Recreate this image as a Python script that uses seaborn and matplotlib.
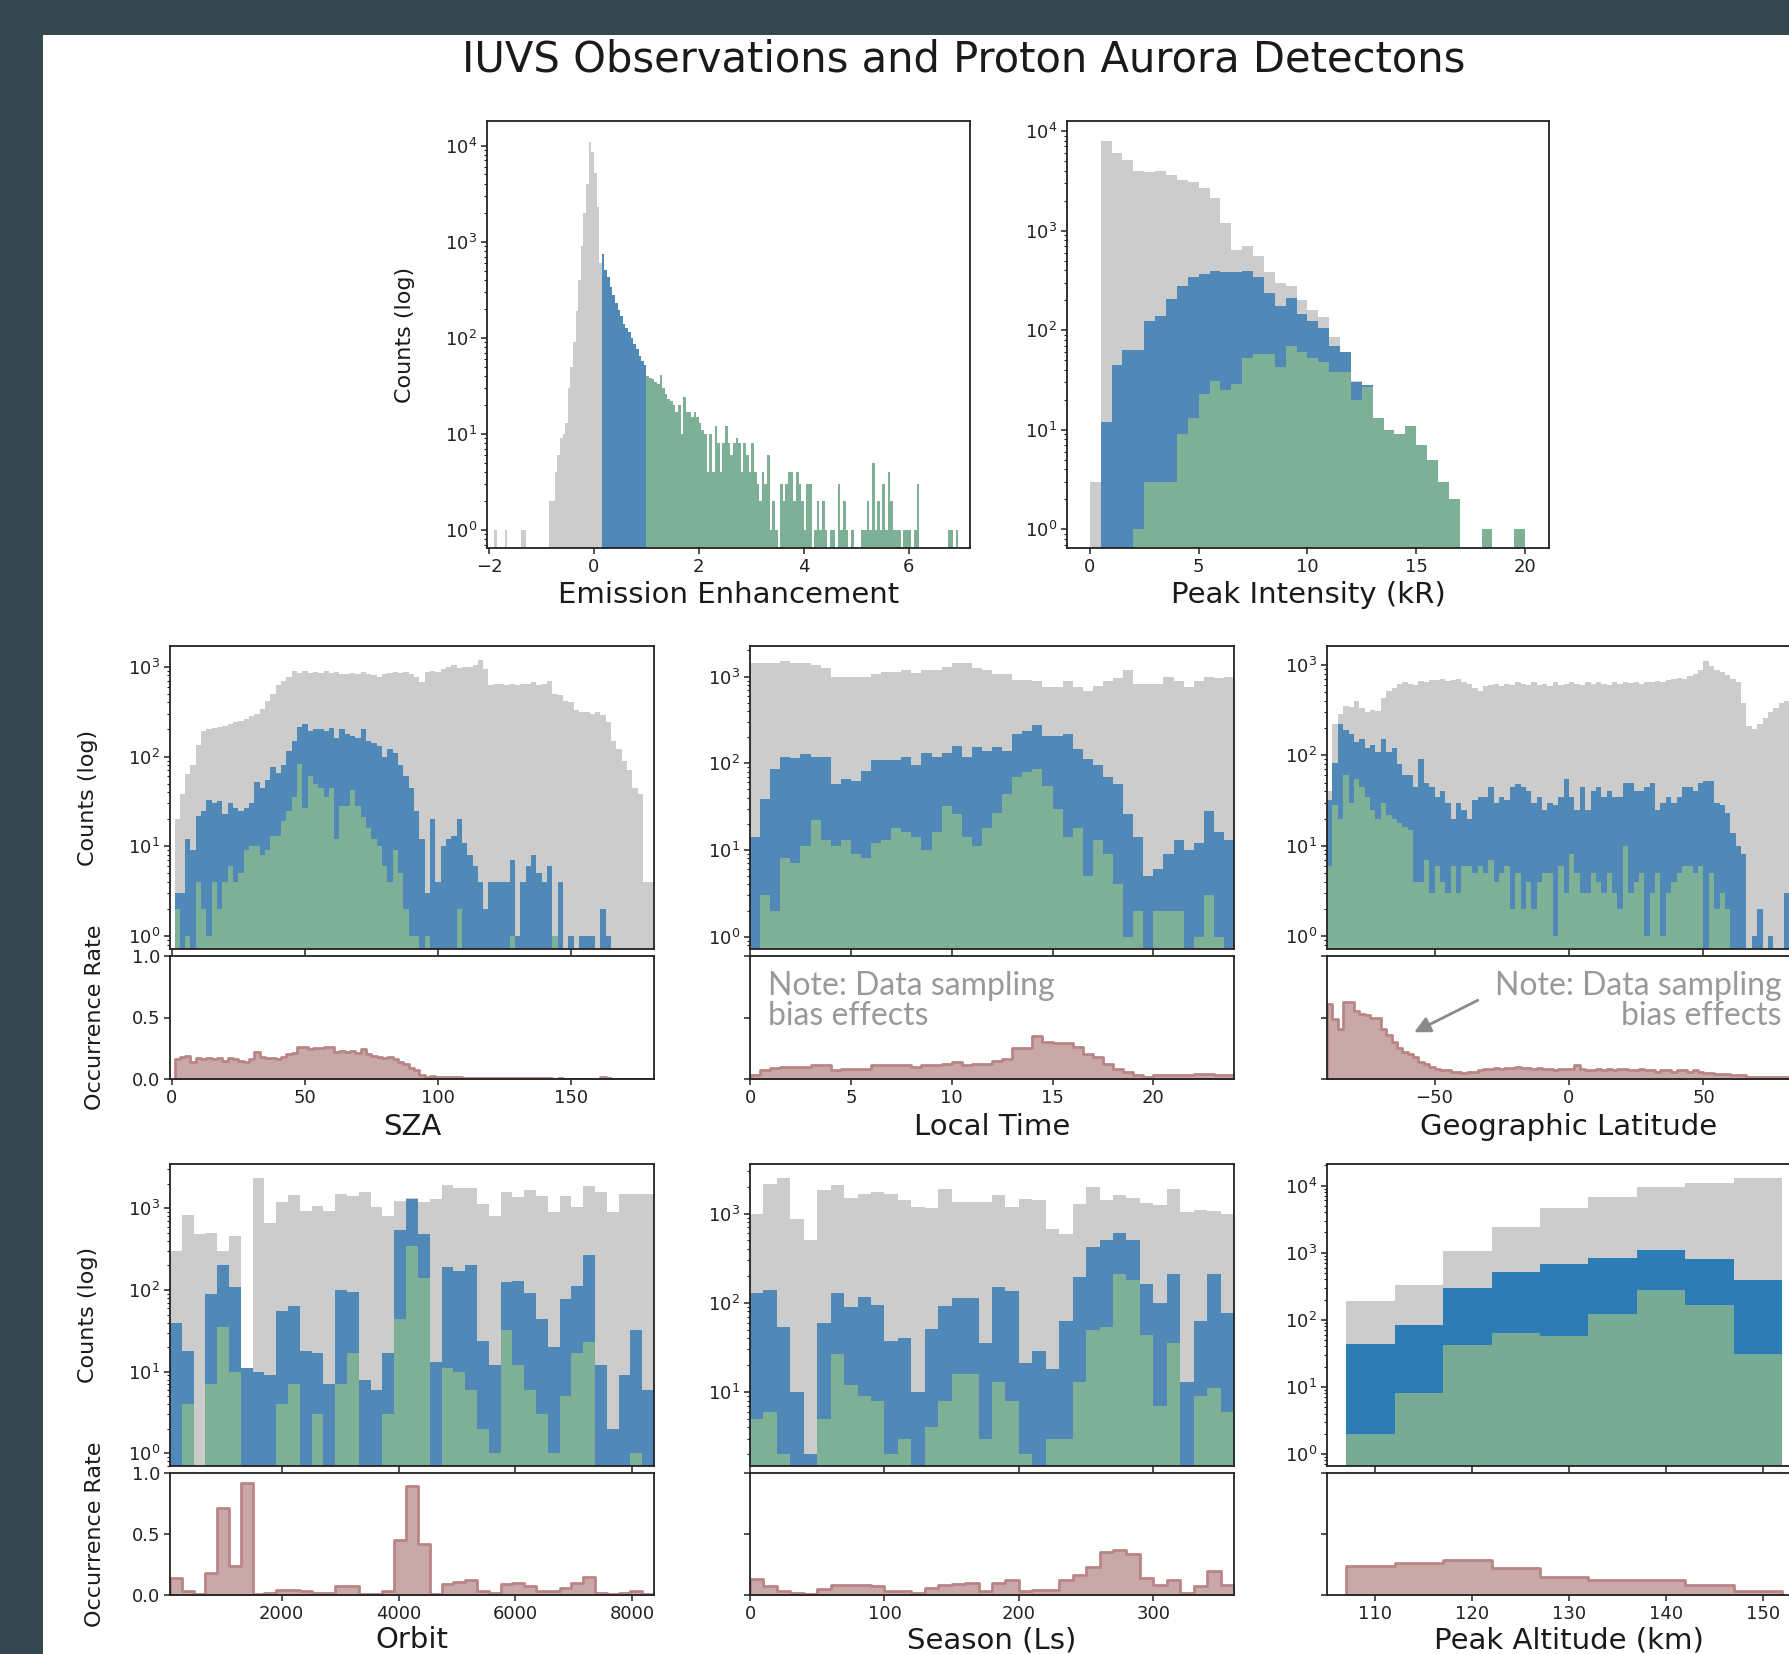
import numpy as np
import pandas as pd
import matplotlib
matplotlib.use('Agg')
import matplotlib.pyplot as plt
import seaborn as sns
from matplotlib.patches import Rectangle
from matplotlib.ticker import FormatStrFormatter, LogLocator, NullFormatter

# colours
GRAY = '#cccccc'
BLUE = '#5088b8'
GREEN = '#7eaf97'
ALT_BLUE = '#2e7cb5'
ALT_GREEN = '#77ab96'
PINK = '#c9a8a8'
PINK_EDGE = '#b98585'

# ---------------- Emission Enhancement (0.05 bins) ----------------
ee_gray_x = [-1.875, -1.675, -1.375, -1.325, -0.825, -0.775, -0.725, -0.675, -0.625, -0.575,
             -0.525, -0.475, -0.425, -0.375, -0.325, -0.275, -0.225, -0.175, -0.125, -0.075,
             -0.025, 0.025, 0.075, 0.125]
ee_gray_n = [1, 1, 1, 1, 2, 2, 4, 6, 9, 10, 13, 30, 50, 90, 190, 400, 900, 2000, 4000, 11000,
             8500, 5200, 2300, 600]
ee_blue_x = [0.175, 0.225, 0.275, 0.325, 0.375, 0.425, 0.475, 0.525, 0.575, 0.625, 0.675,
             0.725, 0.775, 0.825, 0.875, 0.925, 0.975]
ee_blue_n = [740, 510, 430, 340, 280, 230, 195, 170, 140, 125, 115, 100, 87, 77, 65, 58, 52]
# green part: consecutive bins from 1.0 to 7.0
ee_green_n = [40, 38, 37, 35, 33, 41, 30, 26, 23, 22,
              20, 17, 20, 10, 24, 17, 17, 15, 17, 15,
              13, 11, 10, 4, 10, 4, 12, 8, 4, 8,
              12, 8, 6, 8, 9, 8, 4, 8, 6, 4,
              8, 4, 3, 2, 4, 3, 6, 1, 2, 1,
              0, 3, 2, 3, 4, 4, 2, 4, 3, 2,
              1, 3, 3, 0, 1, 2, 1, 2, 1, 0,
              1, 1, 0, 3, 1, 2, 1, 0, 1, 0,
              0, 0, 1, 1, 2, 1, 5, 1, 2, 1,
              3, 1, 4, 2, 1, 1, 1, 0, 1, 1,
              1, 0, 1, 3, 0, 0, 0, 0, 0, 0,
              0, 0, 0, 0, 0, 1, 1, 0, 1, 0]

# ---------------- Peak Intensity (0.5 kR bins, 0-20) ----------------
pi_obs = [3, 8000, 6000, 5100, 4000, 3900, 4000, 3600, 3200, 3100,
          2700, 2100, 1200, 640, 700, 560, 380, 300, 280, 200,
          160, 135, 85, 60, 31, 28, 13, 10, 9, 11,
          7, 5, 3, 2, 0, 0, 1, 0, 0, 1]
pi_det = [0, 12, 45, 63, 63, 124, 140, 205, 280, 340,
          370, 390, 385, 380, 390, 340, 235, 175, 210, 145,
          125, 105, 70, 60, 30, 28, 13, 10, 9, 11,
          7, 5, 3, 2, 0, 0, 1, 0, 0, 1]
pi_strong = [0, 0, 0, 0, 1, 3, 3, 3, 9, 13,
             23, 31, 25, 29, 52, 58, 58, 43, 70, 60,
             52, 48, 38, 38, 20, 27, 13, 10, 9, 11,
             7, 5, 3, 2, 0, 0, 1, 0, 0, 1]

# ---------------- SZA (2 deg bins, 1-181) ----------------
sza_obs = [20, 38, 64, 80, 133, 194, 205, 210, 215, 220,
           230, 240, 250, 260, 280, 300, 340, 420, 500, 620,
           700, 760, 890, 860, 900, 850, 870, 860, 900, 850,
           870, 840, 830, 850, 820, 870, 830, 800, 760, 820,
           860, 880, 850, 870, 820, 760, 670, 880, 900, 880,
           950, 1000, 1050, 960, 980, 1000, 1050, 1180, 950, 620,
           640, 650, 630, 640, 620, 650, 640, 680, 630, 640,
           700, 500, 480, 420, 400, 330, 310, 310, 300, 310,
           290, 240, 150, 120, 90, 70, 45, 38, 4, 4]
sza_det = [3, 3, 12, 9, 22, 25, 33, 30, 32, 23,
           30, 27, 25, 27, 30, 52, 45, 55, 76, 65,
           80, 116, 150, 212, 230, 190, 200, 200, 190, 210,
           160, 200, 180, 170, 160, 200, 150, 140, 130, 100,
           120, 110, 80, 60, 45, 25, 12, 3, 20, 4,
           10, 12, 13, 20, 11, 8, 6, 4, 2, 4,
           4, 4, 4, 7, 1, 4, 6, 8, 5, 4,
           6, 1, 4, 0, 1, 0, 1, 1, 1, 0,
           2, 1, 0, 0, 0, 0, 0, 0, 0, 0]
sza_strong = [2, 0, 1, 0, 4, 2, 1, 4, 2, 4,
              6, 4, 5, 9, 10, 10, 8, 9, 13, 13,
              19, 25, 35, 83, 27, 61, 50, 45, 35, 45,
              12, 28, 28, 42, 28, 21, 16, 12, 10, 6,
              4, 9, 5, 2, 1, 1, 0, 1, 0, 0,
              0, 0, 0, 2, 0, 0, 0, 0, 0, 0,
              0, 0, 0, 1, 0, 0, 0, 0, 0, 0,
              0, 1, 0, 0, 0, 0, 0, 0, 0, 0,
              0, 0, 0, 0, 0, 0, 0, 0, 0, 0]
sza_rate = [0.16, 0.18, 0.19, 0.14, 0.17, 0.16, 0.17, 0.16, 0.17, 0.15,
            0.17, 0.16, 0.15, 0.14, 0.16, 0.22, 0.18, 0.17, 0.17, 0.16,
            0.18, 0.20, 0.21, 0.26, 0.26, 0.24, 0.25, 0.25, 0.26, 0.26,
            0.22, 0.23, 0.22, 0.23, 0.21, 0.24, 0.20, 0.19, 0.18, 0.17,
            0.18, 0.16, 0.14, 0.12, 0.09, 0.07, 0.03, 0.02, 0.025, 0.02,
            0.02, 0.015, 0.015, 0.02, 0.012, 0.01, 0.008, 0.005, 0.005, 0.005,
            0.005, 0.005, 0.008, 0.012, 0.005, 0.006, 0.01, 0.012, 0.008, 0.007,
            0.01, 0.003, 0.01, 0.0, 0.003, 0.0, 0.003, 0.003, 0.003, 0.0,
            0.013, 0.007, 0.0, 0.0, 0.0, 0.0, 0.0, 0.0, 0.0, 0.0]

# ---------------- Local Time (0.5 h bins) ----------------
lt_obs = [1420, 1420, 1420, 1530, 1450, 1450, 1350, 1270, 980, 980,
          990, 1000, 1060, 1120, 1120, 1200, 1100, 1200, 1200, 1280,
          1420, 1420, 1270, 1180, 1060, 1060, 910, 910, 880, 760,
          750, 890, 750, 690, 780, 890, 960, 1180, 830, 810,
          830, 1000, 880, 760, 880, 1000, 960, 1000]
lt_det = [14, 39, 86, 119, 115, 128, 119, 119, 57, 65,
          63, 82, 110, 108, 108, 119, 95, 130, 119, 130,
          160, 119, 155, 140, 155, 140, 217, 233, 278, 208,
          208, 220, 146, 111, 96, 69, 58, 26, 14, 5,
          6, 9, 13, 10, 12, 28, 16, 13]
lt_strong = [0, 3, 2, 8, 7, 11, 22, 13, 11, 13,
             9, 8, 12, 13, 18, 16, 14, 10, 16, 32,
             26, 14, 11, 18, 27, 44, 69, 79, 86, 55,
             30, 14, 18, 5, 13, 9, 4, 1, 2, 0,
             2, 2, 2, 0, 1, 3, 1, 0]
lt_rate = [0.03, 0.07, 0.09, 0.10, 0.10, 0.10, 0.11, 0.115, 0.07, 0.08,
           0.08, 0.08, 0.115, 0.11, 0.11, 0.11, 0.10, 0.11, 0.11, 0.12,
           0.14, 0.11, 0.12, 0.12, 0.15, 0.16, 0.25, 0.25, 0.35, 0.30,
           0.29, 0.29, 0.26, 0.20, 0.18, 0.12, 0.08, 0.055, 0.035, 0.02,
           0.03, 0.03, 0.03, 0.03, 0.04, 0.04, 0.03, 0.03]

# ---------------- Geographic Latitude (2 deg bins) ----------------
lat_obs = [40, 220, 290, 350, 340, 400, 330, 300, 320, 310,
           430, 520, 560, 610, 640, 620, 600, 660, 640, 690,
           680, 700, 670, 690, 700, 650, 620, 560, 510, 580,
           600, 610, 590, 620, 600, 640, 610, 600, 650, 600,
           620, 590, 640, 600, 620, 650, 610, 600, 640, 620,
           650, 620, 600, 640, 620, 650, 630, 640, 620, 650,
           640, 660, 650, 680, 700, 720, 700, 760, 800, 880,
           1100, 980, 870, 830, 770, 700, 650, 380, 210, 195,
           220, 260, 300, 330, 380, 400, 350, 250, 150, 60]
lat_det = [32, 83, 220, 190, 170, 140, 150, 120, 130, 110,
           150, 110, 120, 80, 60, 60, 45, 90, 50, 45,
           35, 40, 30, 20, 30, 25, 20, 32, 35, 35,
           45, 30, 35, 32, 45, 48, 45, 40, 30, 35,
           25, 30, 28, 35, 55, 35, 25, 45, 25, 40,
           45, 35, 40, 35, 35, 50, 50, 40, 40, 45,
           50, 25, 30, 35, 30, 35, 45, 45, 40, 50,
           52, 52, 30, 28, 23, 14, 10, 8, 0, 1,
           2, 0, 1, 0, 0, 3, 2, 1, 2, 1]
lat_strong = [6, 28, 20, 60, 30, 55, 45, 35, 25, 20,
              30, 22, 20, 18, 16, 15, 4, 4, 7, 3,
              6, 4, 3, 6, 3, 6, 6, 5, 6, 5,
              7, 4, 5, 6, 2, 5, 2, 4, 2, 4,
              5, 5, 1, 6, 3, 8, 5, 3, 3, 5,
              4, 3, 5, 3, 2, 10, 3, 4, 5, 1,
              3, 5, 1, 3, 4, 5, 6, 6, 5, 6,
              0, 5, 2, 3, 2, 0, 0, 0, 0, 0,
              0, 0, 0, 0, 0, 0, 0, 0, 0, 0]
lat_rate = [0.61, 0.49, 0.41, 0.63, 0.63, 0.55, 0.53, 0.52, 0.50, 0.50,
            0.41, 0.36, 0.30, 0.25, 0.22, 0.20, 0.18, 0.14, 0.12, 0.10,
            0.08, 0.07, 0.07, 0.06, 0.06, 0.05, 0.055, 0.06, 0.07, 0.08,
            0.08, 0.09, 0.08, 0.09, 0.09, 0.10, 0.09, 0.09, 0.08, 0.09,
            0.08, 0.08, 0.07, 0.08, 0.08, 0.08, 0.11, 0.08, 0.07, 0.07,
            0.08, 0.07, 0.08, 0.07, 0.08, 0.08, 0.07, 0.07, 0.08, 0.07,
            0.07, 0.06, 0.07, 0.07, 0.06, 0.07, 0.07, 0.06, 0.07, 0.06,
            0.05, 0.05, 0.04, 0.04, 0.04, 0.03, 0.03, 0.03, 0.02, 0.02,
            0.02, 0.02, 0.02, 0.02, 0.02, 0.02, 0.02, 0.02, 0.02, 0.02]

# ---------------- Orbit (41 bins, 88-8373) ----------------
orb_obs = [300, 830, 480, 500, 300, 460, 11, 2350, 660, 1200,
           1450, 930, 1080, 930, 1500, 1400, 1600, 1050, 800, 1250,
           1330, 1200, 1300, 1950, 1770, 1770, 1130, 800, 1600, 1370,
           1680, 1400, 900, 1400, 1050, 1900, 1600, 900, 1500, 1500,
           1500]
orb_det = [39, 18, 0, 90, 200, 110, 11, 10, 9, 56,
           63, 18, 17, 7, 100, 95, 8, 6, 17, 550,
           1300, 480, 13, 190, 170, 205, 24, 12, 125, 130,
           93, 44, 20, 78, 112, 270, 12, 2, 9, 32,
           6]
orb_strong = [0, 4, 0, 7, 35, 10, 0, 0, 0, 4,
              7, 0, 3, 0, 7, 17, 0, 0, 3, 44,
              350, 140, 0, 11, 10, 6, 2, 1, 32, 12,
              6, 3, 1, 5, 17, 23, 0, 0, 0, 1,
              0]
orb_rate = [0.14, 0.03, 0.01, 0.18, 0.71, 0.24, 0.92, 0.01, 0.02, 0.04,
            0.04, 0.03, 0.02, 0.02, 0.07, 0.07, 0.01, 0.01, 0.03, 0.45,
            0.89, 0.42, 0.01, 0.09, 0.11, 0.12, 0.03, 0.02, 0.09, 0.10,
            0.07, 0.03, 0.03, 0.06, 0.10, 0.15, 0.02, 0.005, 0.02, 0.03,
            0.005]

# ---------------- Season (10 deg Ls bins) ----------------
ls_obs = [1000, 2160, 2530, 865, 500, 1820, 2070, 1480, 1670, 1750,
          1670, 1410, 1190, 1170, 1870, 1360, 1360, 1360, 1600, 1190,
          1470, 1410, 670, 590, 1290, 1980, 1420, 1600, 1510, 1300,
          1250, 1870, 1030, 1100, 1070, 980]
ls_det = [128, 140, 53, 10, 2, 60, 128, 89, 117, 95,
          37, 40, 10, 51, 91, 113, 113, 35, 150, 135,
          21, 29, 18, 62, 193, 420, 500, 600, 500, 162,
          99, 210, 13, 62, 210, 77]
ls_strong = [5, 6, 2, 0, 0, 5, 27, 12, 9, 8,
             2, 3, 0, 4, 8, 16, 16, 3, 13, 8,
             2, 0, 3, 3, 13, 49, 53, 210, 180, 44,
             7, 35, 0, 9, 11, 6]
ls_rate = [0.13, 0.07, 0.03, 0.02, 0.01, 0.05, 0.08, 0.08, 0.085, 0.07,
           0.03, 0.03, 0.02, 0.06, 0.085, 0.09, 0.10, 0.03, 0.10, 0.12,
           0.03, 0.04, 0.04, 0.12, 0.16, 0.23, 0.35, 0.37, 0.34, 0.14,
           0.085, 0.12, 0.02, 0.07, 0.20, 0.085]

# ---------------- Peak Altitude (5 km bins, 107-152) ----------------
alt_obs = [190, 326, 1050, 2400, 4690, 6800, 9400, 11000, 13000]
alt_det = [43, 83, 300, 520, 680, 840, 1100, 810, 385]
alt_strong = [2, 8, 42, 63, 57, 123, 280, 165, 31]
alt_rate = [0.24, 0.265, 0.29, 0.22, 0.15, 0.125, 0.125, 0.085, 0.03]

# bin edges
ee_edges = np.round(np.arange(-2.0, 7.0001, 0.05), 3)
pi_edges = np.arange(0, 20.01, 0.5)
sza_edges = np.arange(1, 182, 2)
lt_edges = np.arange(0, 24.01, 0.5)
lat_edges = np.arange(-90, 91, 2)
orb_edges = np.linspace(88, 8373, 42)
ls_edges = np.arange(0, 361, 10)
alt_edges = np.arange(107, 153, 5)

sns.set_style('ticks')
plt.rcParams['font.family'] = ['DejaVu Sans']
plt.rcParams['axes.edgecolor'] = '#222222'
plt.rcParams['axes.linewidth'] = 1.3
plt.rcParams['xtick.color'] = '#222222'
plt.rcParams['ytick.color'] = '#222222'

W, H = 1789, 1654
fig = plt.figure(figsize=(W / 100, H / 100), dpi=100, facecolor='#37474f')
fig.add_artist(Rectangle((43 / W, 0), 1, 1 - 35 / H, transform=fig.transFigure,
                         facecolor='white', edgecolor='none', zorder=-5))


def px_axes(x0, y0, x1, y1):
    ax = fig.add_axes([x0 / W, 1 - y1 / H, (x1 - x0) / W, (y1 - y0) / H])
    ax.px_size = (x1 - x0, y1 - y0)
    return ax


def mids_of(edges):
    edges = np.asarray(edges, float)
    return (edges[:-1] + edges[1:]) / 2


def hist(ax, edges, counts, color, x=None, **kw):
    xs = mids_of(edges) if x is None else np.asarray(x, float)
    df = pd.DataFrame({'v': xs, 'n': np.asarray(counts, float)})
    opts = dict(element='step', fill=True, color=color, alpha=1, linewidth=0)
    opts.update(kw)
    sns.histplot(data=df, x='v', weights='n', bins=[float(e) for e in edges],
                 ax=ax, **opts)


def rate_hist(ax, edges, rate):
    hist(ax, edges, rate, PINK, edgecolor=PINK_EDGE, linewidth=2)


def put_xlabel(ax, text, gap):
    ax.set_xlabel(text, fontsize=21, va='center', color='#1a1a1a')
    ax.xaxis.set_label_coords(0.5, -gap / ax.px_size[1])


def put_ylabel(ax, text, gap):
    ax.set_ylabel(text, fontsize=16, va='center', color='#1a1a1a')
    ax.yaxis.set_label_coords(-gap / ax.px_size[0], 0.5)


def style_counts(ax, xlim, ylim, xticks, xlabels=True):
    ax.set_yscale('log')
    ax.set_xlim(xlim)
    ax.set_ylim(ylim)
    ax.set_xticks(xticks)
    ax.yaxis.set_major_locator(LogLocator(base=10, numticks=10))
    ax.yaxis.set_minor_locator(LogLocator(base=10, subs=np.arange(2, 10), numticks=40))
    ax.yaxis.set_minor_formatter(NullFormatter())
    ax.tick_params(labelsize=13, length=4, width=1.1, pad=3, direction='out')
    ax.tick_params(which='minor', length=2.2, width=0.8)
    ax.set_ylabel('')
    ax.set_xlabel('')
    if not xlabels:
        ax.tick_params(axis='x', labelbottom=False)


def style_rate(ax, xlim, xticks, first=False):
    ax.set_xlim(xlim)
    ax.set_ylim(0, 1.0)
    ax.set_xticks(xticks)
    ax.set_yticks([0, 0.5, 1.0])
    ax.yaxis.set_major_formatter(FormatStrFormatter('%.1f'))
    ax.tick_params(labelsize=13, length=4, width=1.1, pad=3, direction='out')
    ax.set_ylabel('')
    if not first:
        ax.tick_params(axis='y', labelleft=False)


fig.text(964 / W, 1 - 59 / H, 'IUVS Observations and Proton Aurora Detectons',
         ha='center', va='center', fontsize=30, color='#1a1a1a')

# ---- top row ----
ax = px_axes(487, 121, 970, 548)
hist(ax, ee_edges, ee_gray_n, GRAY, x=ee_gray_x)
hist(ax, ee_edges, ee_blue_n, BLUE, x=ee_blue_x)
hist(ax, ee_edges, ee_green_n, GREEN, x=mids_of(ee_edges)[60:])
style_counts(ax, (-2.04, 7.17), (0.65, 1.8e4), [-2, 0, 2, 4, 6])
put_xlabel(ax, 'Emission Enhancement', 47)
put_ylabel(ax, 'Counts (log)', 82)

ax = px_axes(1067, 121, 1549, 548)
hist(ax, pi_edges, pi_obs, GRAY)
hist(ax, pi_edges, pi_det, BLUE)
hist(ax, pi_edges, pi_strong, GREEN)
style_counts(ax, (-1.05, 21.1), (0.65, 1.26e4), [0, 5, 10, 15, 20])
put_xlabel(ax, 'Peak Intensity (kR)', 47)

# ---- paired panels ----
cols = [(170, 654), (750, 1234), (1327, 1811)]
rows = [((646, 949), (956, 1079)), ((1164, 1466), (1473, 1595))]
label_gaps = [48, 45]

panels = [
    (sza_edges, sza_obs, sza_det, sza_strong, sza_rate, (-0.7, 181.2), (0.72, 1700),
     [0, 50, 100, 150], 'SZA', BLUE, GREEN),
    (lt_edges, lt_obs, lt_det, lt_strong, lt_rate, (0, 24), (0.72, 2250),
     [0, 5, 10, 15, 20], 'Local Time', BLUE, GREEN),
    (lat_edges, lat_obs, lat_det, lat_strong, lat_rate, (-90, 90), (0.72, 1620),
     [-50, 0, 50], 'Geographic Latitude', BLUE, GREEN),
    (orb_edges, orb_obs, orb_det, orb_strong, orb_rate, (88, 8373), (0.7, 3500),
     [2000, 4000, 6000, 8000], 'Orbit', BLUE, GREEN),
    (ls_edges, ls_obs, ls_det, ls_strong, ls_rate, (0, 360), (1.48, 3600),
     [0, 100, 200, 300], 'Season (Ls)', BLUE, GREEN),
    (alt_edges, alt_obs, alt_det, alt_strong, alt_rate, (105, 155), (0.66, 2.1e4),
     [110, 120, 130, 140, 150], 'Peak Altitude (km)', ALT_BLUE, ALT_GREEN),
]

rate_axes = []
for k, (edges, obs, det, strong, rate, xlim, ylim, xticks, name, cb, cg) in enumerate(panels):
    r, c = divmod(k, 3)
    (u0, u1), (l0, l1) = rows[r]
    x0, x1 = cols[c]
    up = px_axes(x0, u0, x1, u1)
    hist(up, edges, obs, GRAY)
    hist(up, edges, det, cb)
    hist(up, edges, strong, cg)
    style_counts(up, xlim, ylim, xticks, xlabels=False)
    lo = px_axes(x0, l0, x1, l1)
    rate_hist(lo, edges, rate)
    style_rate(lo, xlim, xticks, first=(c == 0))
    put_xlabel(lo, name, label_gaps[r])
    if c == 0:
        put_ylabel(up, 'Counts (log)', 82)
        put_ylabel(lo, 'Occurrence Rate', 75)
    rate_axes.append(lo)

note_font = dict(color='#999999', fontsize=23, family=['Lato', 'DejaVu Sans'],
                 fontweight='normal', linespacing=1.0)
rate_axes[1].text(0.037, 0.88, 'Note: Data sampling\nbias effects',
                  transform=rate_axes[1].transAxes, ha='left', va='top', **note_font)
rate_axes[2].text(0.94, 0.88, 'Note: Data sampling\nbias effects',
                  transform=rate_axes[2].transAxes, ha='right', va='top',
                  multialignment='right', **note_font)
rate_axes[2].annotate('', xy=(-58.5, 0.37), xytext=(-33, 0.65),
                      arrowprops=dict(arrowstyle='-|>', color='#8a8a8a', lw=2,
                                      mutation_scale=24))

fig.savefig('out.png', dpi=100, facecolor=fig.get_facecolor())
